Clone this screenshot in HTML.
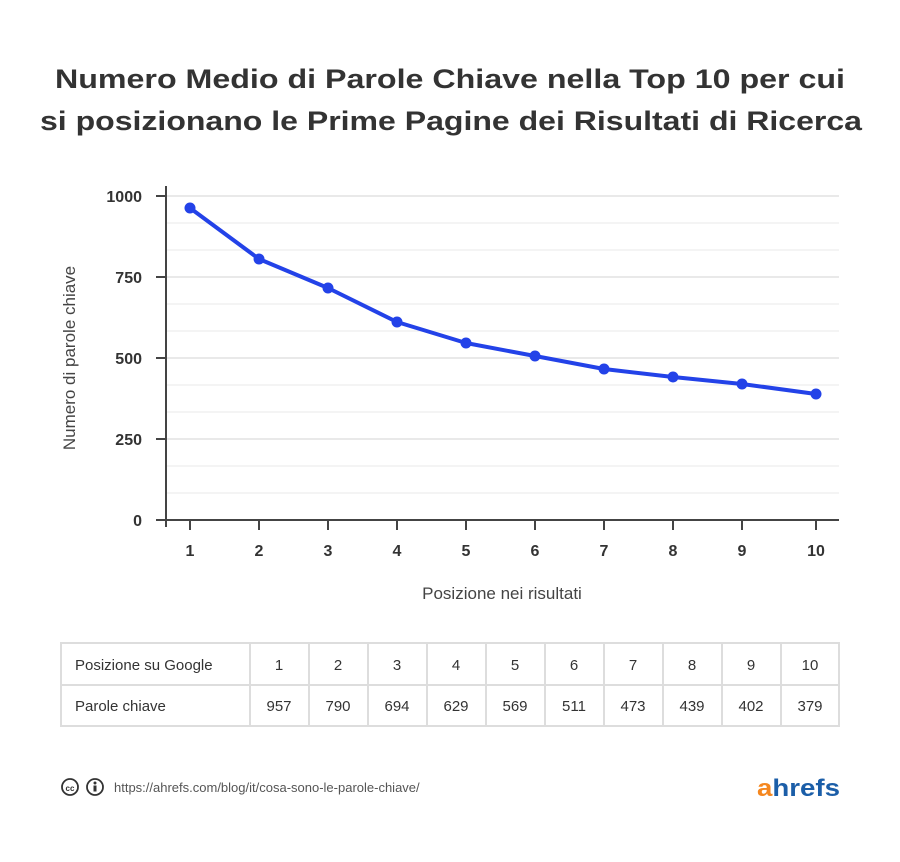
<!DOCTYPE html>
<html><head><meta charset="utf-8"><style>
body{margin:0;background:#fff;width:900px;height:857px;overflow:hidden;font-family:"Liberation Sans",sans-serif}
</style></head><body>
<svg width="900" height="857" xmlns="http://www.w3.org/2000/svg" font-family="Liberation Sans, sans-serif">
<text x="55" y="88" font-size="27" font-weight="bold" fill="#333" textLength="790" lengthAdjust="spacingAndGlyphs">Numero Medio di Parole Chiave nella Top 10 per cui</text>
<text x="40" y="130" font-size="27" font-weight="bold" fill="#333" textLength="822" lengthAdjust="spacingAndGlyphs">si posizionano le Prime Pagine dei Risultati di Ricerca</text>
<g stroke="#f0f0f0" stroke-width="1.5">
<line x1="166" x2="839" y1="223" y2="223"/><line x1="166" x2="839" y1="250" y2="250"/>
<line x1="166" x2="839" y1="304" y2="304"/><line x1="166" x2="839" y1="331" y2="331"/>
<line x1="166" x2="839" y1="385" y2="385"/><line x1="166" x2="839" y1="412" y2="412"/>
<line x1="166" x2="839" y1="466" y2="466"/><line x1="166" x2="839" y1="493" y2="493"/>
</g>
<g stroke="#e2e2e2" stroke-width="1.5">
<line x1="166" x2="839" y1="196" y2="196"/><line x1="166" x2="839" y1="277" y2="277"/>
<line x1="166" x2="839" y1="358" y2="358"/><line x1="166" x2="839" y1="439" y2="439"/>
</g>
<g stroke="#444" stroke-width="2">
<line x1="166" y1="186" x2="166" y2="527"/><line x1="156" y1="520" x2="839" y2="520"/>
<line x1="156" y1="196" x2="166" y2="196"/><line x1="156" y1="277" x2="166" y2="277"/>
<line x1="156" y1="358" x2="166" y2="358"/><line x1="156" y1="439" x2="166" y2="439"/>
<line x1="190" y1="520" x2="190" y2="530"/><line x1="259" y1="520" x2="259" y2="530"/>
<line x1="328" y1="520" x2="328" y2="530"/><line x1="397" y1="520" x2="397" y2="530"/>
<line x1="466" y1="520" x2="466" y2="530"/><line x1="535" y1="520" x2="535" y2="530"/>
<line x1="604" y1="520" x2="604" y2="530"/><line x1="673" y1="520" x2="673" y2="530"/>
<line x1="742" y1="520" x2="742" y2="530"/><line x1="816" y1="520" x2="816" y2="530"/>
</g>
<g font-size="16" fill="#333" font-weight="bold" text-anchor="end">
<text x="142" y="202">1000</text><text x="142" y="283">750</text><text x="142" y="364">500</text><text x="142" y="445">250</text><text x="142" y="526">0</text>
</g>
<g font-size="16" fill="#333" font-weight="bold" text-anchor="middle">
<text x="190" y="556">1</text><text x="259" y="556">2</text><text x="328" y="556">3</text><text x="397" y="556">4</text><text x="466" y="556">5</text><text x="535" y="556">6</text><text x="604" y="556">7</text><text x="673" y="556">8</text><text x="742" y="556">9</text><text x="816" y="556">10</text>
</g>
<text x="502" y="599" text-anchor="middle" font-size="17" fill="#444">Posizione nei risultati</text>
<text transform="translate(75,358) rotate(-90)" text-anchor="middle" font-size="17" fill="#444">Numero di parole chiave</text>
<polyline fill="none" stroke="#2342e8" stroke-width="4" stroke-linejoin="round" points="190,208 259,259 328,288 397,322 466,343 535,356 604,369 673,377 742,384 816,394"/>
<g fill="#2342e8">
<circle cx="190" cy="208" r="5.5"/><circle cx="259" cy="259" r="5.5"/><circle cx="328" cy="288" r="5.5"/><circle cx="397" cy="322" r="5.5"/><circle cx="466" cy="343" r="5.5"/><circle cx="535" cy="356" r="5.5"/><circle cx="604" cy="369" r="5.5"/><circle cx="673" cy="377" r="5.5"/><circle cx="742" cy="384" r="5.5"/><circle cx="816" cy="394" r="5.5"/>
</g>
<g stroke="#dddddd" stroke-width="2" fill="none">
<rect x="61" y="643" width="778" height="83"/>
<line x1="61" x2="839" y1="685" y2="685"/>
<line x1="250" x2="250" y1="643" y2="726"/><line x1="309" x2="309" y1="643" y2="726"/><line x1="368" x2="368" y1="643" y2="726"/><line x1="427" x2="427" y1="643" y2="726"/><line x1="486" x2="486" y1="643" y2="726"/><line x1="545" x2="545" y1="643" y2="726"/><line x1="604" x2="604" y1="643" y2="726"/><line x1="663" x2="663" y1="643" y2="726"/><line x1="722" x2="722" y1="643" y2="726"/><line x1="781" x2="781" y1="643" y2="726"/>
</g>
<g font-size="15" fill="#333">
<text x="75" y="670">Posizione su Google</text><text x="75" y="711">Parole chiave</text>
</g>
<g font-size="15" fill="#333" text-anchor="middle">
<text x="279" y="670">1</text><text x="338" y="670">2</text><text x="397" y="670">3</text><text x="456" y="670">4</text><text x="515" y="670">5</text><text x="574" y="670">6</text><text x="633" y="670">7</text><text x="692" y="670">8</text><text x="751" y="670">9</text><text x="810" y="670">10</text>
<text x="279" y="711">957</text><text x="338" y="711">790</text><text x="397" y="711">694</text><text x="456" y="711">629</text><text x="515" y="711">569</text><text x="574" y="711">511</text><text x="633" y="711">473</text><text x="692" y="711">439</text><text x="751" y="711">402</text><text x="810" y="711">379</text>
</g>
<circle cx="70" cy="787" r="8" fill="none" stroke="#333" stroke-width="1.8"/>
<text x="70" y="791" text-anchor="middle" font-size="8" font-weight="bold" fill="#333">cc</text>
<circle cx="95" cy="787" r="8" fill="none" stroke="#333" stroke-width="1.8"/>
<circle cx="95" cy="783" r="1.5" fill="#333"/><rect x="93.5" y="785.5" width="3" height="6" fill="#333"/>
<text x="114" y="792" font-size="13" fill="#555">https://ahrefs.com/blog/it/cosa-sono-le-parole-chiave/</text>
<text x="757" y="796" font-size="24" font-weight="bold" fill="#1b5ea8" textLength="83" lengthAdjust="spacingAndGlyphs"><tspan fill="#f5871f">a</tspan>hrefs</text>
</svg>
</body></html>
